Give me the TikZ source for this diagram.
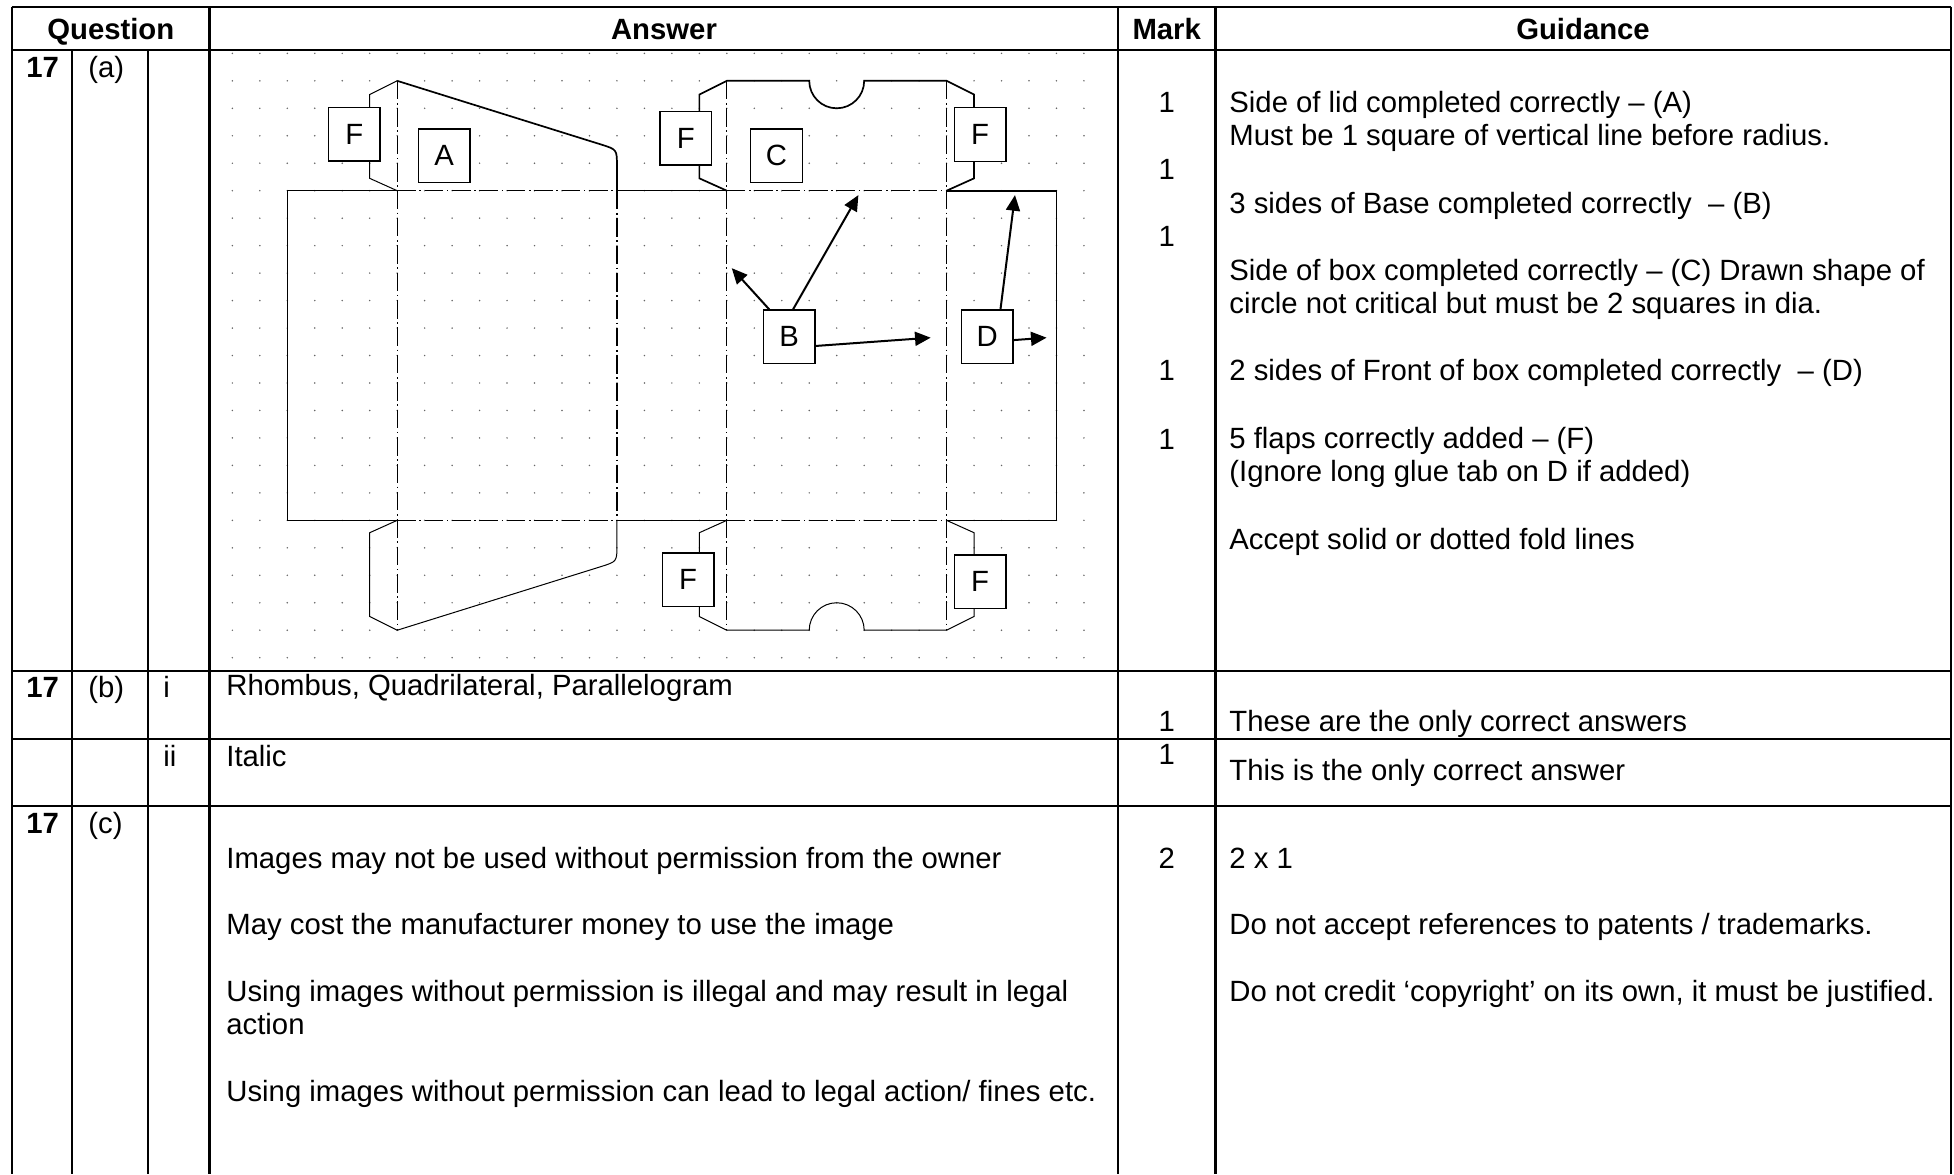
\documentclass[tikz,border=0pt]{standalone}
\usepackage{fontspec}
\setmainfont{Liberation Sans}
\usepackage{tikz}
\usetikzlibrary{arrows.meta, positioning}
\newcommand{\cellfont}{\fontsize{14.65pt}{16.65pt}\selectfont}
\tikzset{
  cell/.style={line width=1.1pt},
  griddot/.style={fill=black!60},
  cut/.style={line width=0.5pt},
  cutthick/.style={line width=0.85pt},
  fold/.style={line width=0.6pt, dash pattern=on 9.3pt off 1.8pt on 0.8pt off 1.8pt},
  tag/.style={draw, line width=0.65pt, fill=white, minimum width=25.8pt, minimum height=26.8pt, inner sep=0pt, font=\cellfont},
  pointer/.style={-{Triangle[length=7.8pt,width=7pt]}, line width=1pt},
  txt/.style={anchor=base west, inner sep=0pt, font=\cellfont},
  qnum/.style={txt, font=\cellfont\bfseries},
  score/.style={anchor=base, inner sep=0pt, font=\cellfont},
  head/.style={anchor=base, inner sep=0pt, font=\cellfont\bfseries},
}

\begin{document}
\begin{tikzpicture}[x=0.5pt, y=-0.5pt]
  \useasboundingbox (0,0) rectangle (1954,1174);

  \foreach \x in {11.7,209.5,1118,1215.5,1951} \draw[cell] (\x,6.7) -- (\x,1174);
  \foreach \x in {71.7,147.7} \draw[cell] (\x,50) -- (\x,1174);
  \foreach \y in {6.7,50,670.7,739,805.7} \draw[cell] (11.7,\y) -- (1951,\y);

  \node[head] (hq) at (110.8,39) {Question};
  \node[head] (ha) at (664,39) {Answer};
  \node[head] (hm) at (1166.7,39) {Mark};
  \node[head] (hg) at (1583,39) {Guidance};

  \node[qnum] (qa) at (26,77) {17};
  \node[txt] (pa) at (88,77) {(a)};
  \node[qnum] (qb) at (26,697) {17};
  \node[txt] (pb) at (88,697) {(b)};
  \node[txt] (si) at (163,697) {i};
  \node[txt] (sii) at (163,766) {ii};
  \node[qnum] (qc) at (26,833) {17};
  \node[txt] (pc) at (88,833) {(c)};

  \foreach \y/\t [count=\k] in {695/{Rhombus, Quadrilateral, Parallelogram}, 766.5/Italic,
      868/{Images may not be used without permission from the owner},
      934.5/{May cost the manufacturer money to use the image},
      1001.5/{Using images without permission is illegal and may result in legal},
      1034.8/action,
      1101.5/{Using images without permission can lead to legal action/ fines etc.}}
    \node[txt] (ans\k) at (226,\y) {\t};

  \foreach \y/\t [count=\k] in {112.7/1, 179/1, 246/1, 380.5/1, 449/1, 731.7/1, 764/1, 868/2}
    \node[score] (mk\k) at (1166.7,\y) {\t};

  \foreach \y/\t [count=\k] in {112/{Side of lid completed correctly – (A)},
      145.8/{Must be 1 square of vertical line before radius.},
      213/{3 sides of Base completed correctly~~– (B)},
      280/{Side of box completed correctly – (C) Drawn shape of},
      313.3/{circle not critical but must be 2 squares in dia.},
      380/{2 sides of Front of box completed correctly~~– (D)},
      448/{5 flaps correctly added – (F)},
      481.5/{(Ignore long glue tab on D if added)},
      549.5/{Accept solid or dotted fold lines},
      731.7/{These are the only correct answers},
      780/{This is the only correct answer},
      868/{2 x 1},
      934.5/{Do not accept references to patents / trademarks.},
      1001.5/{Do not credit ‘copyright’ on its own, it must be justified.}}
    \node[txt] (gd\k) at (1229,\y) {\t};

  \begin{scope}[shift={(287.3,190.7)}, x=13.735pt, y=-13.735pt]
    \foreach \i in {-2,...,29}
      \foreach \j in {-5,...,17}
        \fill[griddot] (\i,\j) circle (0.42pt);

    \draw[cut] (4,0) -- (0,0) -- (0,12) -- (4,12);
    \draw[cut] (12,0) -- (16,0);
    \draw[cut] (12,12) -- (16,12);
    \draw[cutthick] (24,0) -- (28,0) -- (28,12) -- (24,12);

    \draw[cut] (4,0) -- (3,-0.45) -- (3,-3.5) -- (4,-4);
    \draw[cutthick] (4,-4) -- (11.43,-1.68) .. controls (12,-1.5) .. (12,-0.9) -- (12,0);
    \draw[cut] (4,12) -- (3,12.45) -- (3,15.5) -- (4,16) -- (11.43,13.68) .. controls (12,13.5) .. (12,12.9) -- (12,12);

    \draw[cutthick] (16,0) -- (15,-0.45) -- (15,-3.5) -- (16,-4) -- (19,-4)
      arc[start angle=180, end angle=0, radius=1] -- (24,-4) -- (25,-3.5) -- (25,-0.45) -- (24,0);
    \draw[cut] (16,12) -- (15,12.45) -- (15,15.5) -- (16,16) -- (19,16)
      arc[start angle=180, end angle=360, radius=1] -- (24,16) -- (25,15.5) -- (25,12.45) -- (24,12);

    \draw[fold] (4,0) -- (12,0);
    \draw[fold] (16,0) -- (24,0);
    \draw[fold] (4,12) -- (12,12);
    \draw[fold] (16,12) -- (24,12);
    \draw[fold] (4,-4) -- (4,16);
    \draw[fold] (12,0) -- (12,12);
    \draw[fold] (16,-4) -- (16,16);
    \draw[fold] (24,-4) -- (24,16);

    \node[tag] (F1) at (2.44,-2.06) {F};
    \node[tag] (A) at (5.71,-1.27) {A};
    \node[tag] (F2) at (14.51,-1.91) {F};
    \node[tag] (C) at (17.81,-1.27) {C};
    \node[tag] (F3) at (25.22,-2.05) {F};
    \node[tag] (B) at (18.27,5.32) {B};
    \node[tag, right=72.5pt of B] (D) {D};
    \node[tag] (F4) at (14.59,14.16) {F};
    \node[tag] (F5) at (25.22,14.24) {F};

    \coordinate (bl) at (16.18,2.82);
    \coordinate (bt) at (20.79,0.16);
    \coordinate (br) at (23.42,5.35);
    \coordinate (dt) at (26.49,0.16);
    \coordinate (dr) at (27.64,5.35);

    \draw[pointer] (B.126) -- (bl);
    \draw[pointer] (B.82) -- (bt);
    \draw[pointer] (B.-19) -- (br);
    \draw[pointer] (D.64) -- (dt);
    \draw[pointer] (D.-7) -- (dr);
  \end{scope}
\end{tikzpicture}
\end{document}
